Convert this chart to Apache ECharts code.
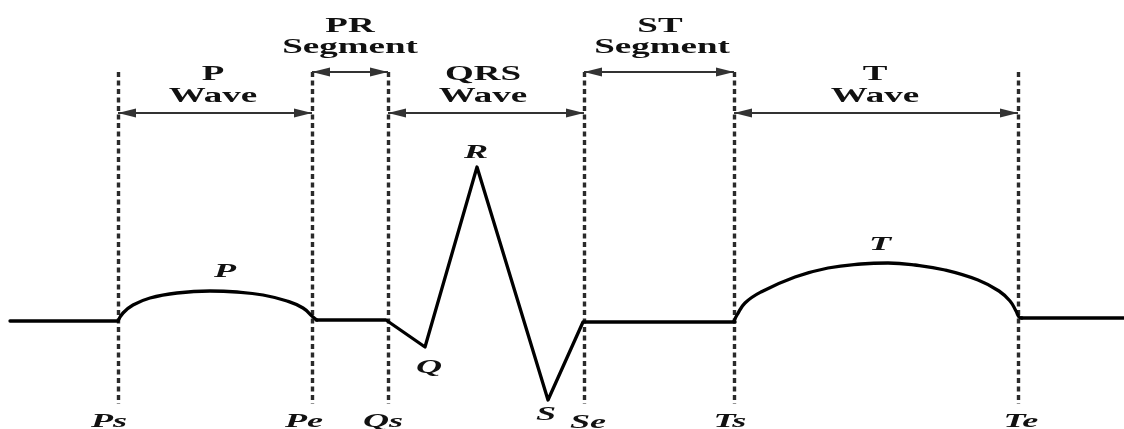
<!DOCTYPE html>
<html><head><meta charset="utf-8">
<script src="https://cdn.jsdelivr.net/npm/echarts@6/dist/echarts.min.js"></script>
<style>html,body{margin:0;padding:0;background:#fff}#c{width:1124px;height:429px}</style>
</head><body><div id="c"></div>
<script>
// x: time (arbitrary units), y: amplitude (arbitrary units, baseline = 0)
const leadIn = [[10,0],[118,0]];
const pWave = [[118,0],[123,8],[133,16],[150,23],[177,28],[210,30],[237,29],[263,26],[287,20],[303,13],[313,4],[317,1]];
const qrsSegment = [[316,1],[386,1],[425,-26],[477,154],[548,-79],[583,-1],[735,-1]];
const tWave = [[734,0],[737,6],[745,18],[761,29],[795,44],[828,53],[861,57],[888,58],[915,56],[945,51],[978,41],[999,30],[1010,20],[1016,10],[1019,4],[1022,3]];
const tail = [[1021,3],[1124,3]];

const boundaryNames = ['Ps','Pe','Qs','Se','Ts','Te'];
const boundaryX = [118,312,388,584,734,1018];
const boundaryTop = 249, boundaryBottom = -83;

const spanStart = [118,312,388,584,734];
const spanEnd   = [312,388,584,734,1018];
const spanLevel = [208,249,208,249,208];

const headingText = ['P','Wave','PR','Segment','QRS','Wave','ST','Segment','T','Wave'];
const headingX    = [213,213,350,350,483,483,660,662,875,875];
const headingY    = [246,224,294,273,246,224,294,273,246,224];

const pointText = ['Ps','Pe','Qs','S','Se','Ts','Te','Q','R','P','T'];
const pointX    = [109,304,383,546,588,730,1021,429,476,225,880];
const pointY    = [-101,-101,-101,-94,-102,-101,-101,-47,168,49,76];

const chart = echarts.init(document.getElementById('c'), null, {renderer:'canvas'});
const waveStyle = {color:'#000', width:3.3, cap:'round', join:'round'};
function lineSeries(data, smooth){
  return {type:'line', data, smooth, symbol:'none', silent:true, lineStyle:waveStyle, z:5};
}
const vLines = boundaryX.map(x => [{coord:[x,boundaryTop]},{coord:[x,boundaryBottom]}]);
const head = {symbolSize:[9,18], symbolOffset:[0,9]};
const arrows = spanStart.map((s,i)=>[Object.assign({coord:[s,spanLevel[i]]},head),Object.assign({coord:[spanEnd[i],spanLevel[i]]},head)]);

chart.setOption({
  animation:false,
  grid:{left:0,right:0,top:0,bottom:0},
  xAxis:{type:'value',min:0,max:1124,show:false},
  yAxis:{type:'value',min:-108,max:321,show:false},
  series:[
    Object.assign(lineSeries(leadIn,false),{
      markLine:{silent:true,symbol:'none',label:{show:false},
        lineStyle:{type:[5,3.5],width:3.4,color:'#2a2a2a'},data:vLines}
    }),
    Object.assign(lineSeries(pWave,0.45),{
      markLine:{silent:true,symbol:['triangle','triangle'],symbolSize:12,label:{show:false},
        lineStyle:{type:'solid',width:1.8,color:'#333'},itemStyle:{color:'#111'},data:arrows}
    }),
    lineSeries(qrsSegment,false),
    lineSeries(tWave,0.45),
    lineSeries(tail,false)
  ]
});

const graphics = [];
headingText.forEach((t,i)=>{
  const p = chart.convertToPixel({gridIndex:0},[headingX[i],headingY[i]]);
  graphics.push({type:'text',x:p[0],y:p[1],scaleX:1.85,scaleY:1,silent:true,
    style:{text:t,font:'bold 20px "Liberation Serif"',fill:'#111',textAlign:'center',textVerticalAlign:'middle',align:'center',verticalAlign:'middle'}});
});
pointText.forEach((t,i)=>{
  const p = chart.convertToPixel({gridIndex:0},[pointX[i],pointY[i]]);
  graphics.push({type:'text',x:p[0],y:p[1],scaleX:1.9,scaleY:1,silent:true,
    style:{text:t,font:'italic bold 19px "Liberation Serif"',fill:'#111',textAlign:'center',textVerticalAlign:'middle',align:'center',verticalAlign:'middle'}});
});
chart.setOption({graphic:graphics});
</script></body></html>
